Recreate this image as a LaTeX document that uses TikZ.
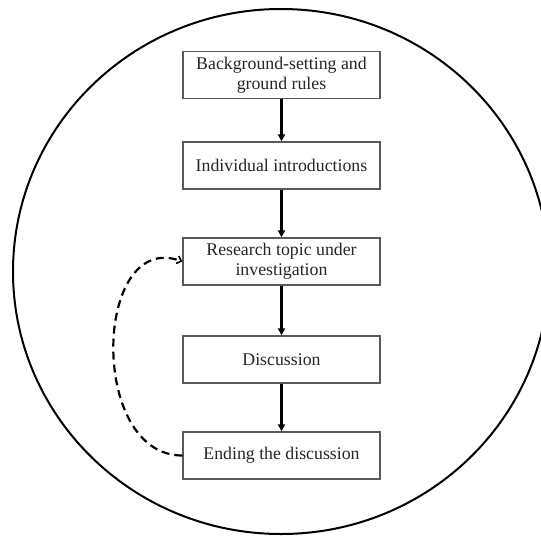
\documentclass[tikz,border=0pt]{standalone}
\usepackage{fontspec}
\setmainfont{Liberation Serif}
\usetikzlibrary{arrows.meta,shapes.geometric}

\tikzset{
  stagebox/.style={draw=black!65, line width=1.4pt, fill=white,
    minimum width=197pt, minimum height=47pt, inner sep=0pt,
    align=center, text=black!85,
    font=\fontsize{17.8pt}{20pt}\selectfont},
  flow/.style={line width=2.2pt, -{Triangle[length=7pt,width=7pt]}},
  loopback/.style={line width=2.2pt, dash pattern=on 8pt off 5pt,
    -{Straight Barb[length=4pt,width=8pt,line width=1.6pt]}},
  frame/.style={draw=black, line width=2pt, ellipse, inner sep=0pt,
    minimum width=536pt, minimum height=525pt}
}

\begin{document}
\begin{tikzpicture}[x=1pt,y=-1pt]
  \useasboundingbox (0,0) rectangle (541,536);

  % enclosing oval
  \node[frame] (oval) at (281,271.5) {};

  % stages of the session
  \node[stagebox] (bg)   at (281.5,75)    {Background-setting and\\ground rules};
  \node[stagebox] (intro) at (281.5,165.5) {Individual introductions};
  \node[stagebox] (topic) at (281.5,261.5) {Research topic under\\investigation};
  \node[stagebox] (disc)  at (281.5,359.5) {Discussion};
  \node[stagebox] (end)   at (281.5,455.5) {Ending the discussion};

  % main sequence
  \draw[flow] (bg)    -- (intro);
  \draw[flow] (intro) -- (topic);
  \draw[flow] (topic) -- (disc);
  \draw[flow] (disc)  -- (end);

  % return from the end back to the topic
  \draw[loopback] (end.west) to[out=180, in=160, looseness=1.25] (topic.west);
\end{tikzpicture}
\end{document}
